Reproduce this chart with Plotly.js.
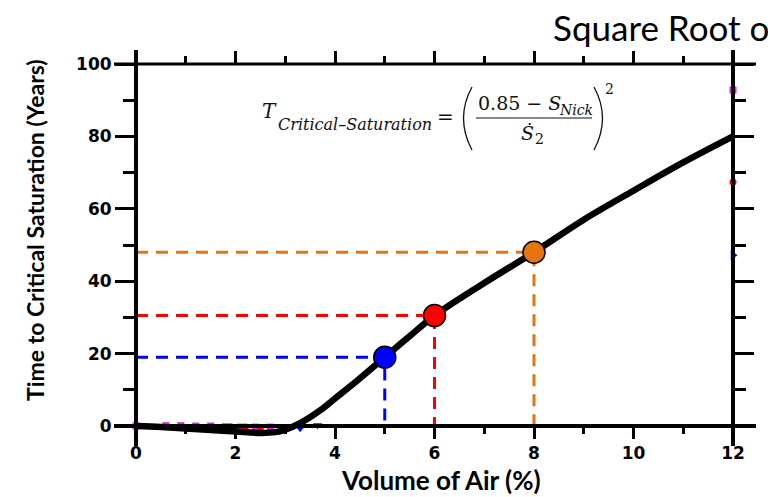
<!DOCTYPE html>
<html>
<head>
<meta charset="utf-8">
<script src="https://cdn.plot.ly/plotly-3.0.1.min.js"></script>
<style>html,body{margin:0;padding:0;background:#fff;}#chart{width:768px;height:497px;}</style>
</head>
<body>
<div id="chart"></div>
<script>
// ---- data ----
const curveX = [0, 0.5, 1, 1.5, 2, 2.5, 2.8, 3, 3.3, 3.7, 4, 4.4, 5, 5.5, 6, 7, 8, 9, 10, 11, 12];
const curveY = [0, -0.3, -0.7, -1.1, -1.5, -1.9, -1.7, -1.0, 0.8, 4.3, 7.6, 12.0, 19, 24.8, 30.5, 39.5, 48, 57, 65, 72.8, 80];

const pointX = [5, 6, 8];
const pointY = [19, 30.5, 48];
const pointColors = ['#0000ff', '#ff0000', '#e47510'];

const bgMagentaX = [0, 0.6, 0.9, 1.2, 1.5, 1.8, 2.1, 2.4, 2.7, 12];
const bgMagentaY = [0, 0.1, 0.1, 0, 0, -0.2, -0.3, -0.3, -0.3, 92.8];
const bgRedX = [1.9, 2.2, 2.5, 12];
const bgRedY = [-0.2, -0.3, -0.4, 67.4];
const bgBlueX = [3.3, 3.65];
const bgBlueY = [-0.6, 0.2];
const bgBlueEdgeX = [12];
const bgBlueEdgeY = [47.2];

const xTicks = [0, 2, 4, 6, 8, 10, 12];
const yTicks = [0, 20, 40, 60, 80, 100];

// ---- layout helpers (pixel -> paper) ----
const L = 136, R = 733, T = 64, B = 426, EXTRA = 15;
const PB = B + EXTRA;              // paper bottom in pixels
const W = R - L, PH = PB - T;
const px = x => (x - L) / W;
const py = y => (PB - y) / PH;
const yMinExt = -100 * EXTRA / (B - T);

const on2 = t => Object.assign(t, {xaxis: 'x2', yaxis: 'y2'});
const traces = [];
// placeholder so the main axes subplot exists
traces.push({x: [], y: [], type: 'scatter', mode: 'markers', hoverinfo: 'skip'});
// background stray markers
traces.push(on2({x: bgMagentaX, y: bgMagentaY, mode: 'markers', type: 'scatter', cliponaxis: false,
  marker: {symbol: 'square', size: 7, color: '#e020e0'}, hoverinfo: 'skip'}));
traces.push(on2({x: bgRedX, y: bgRedY, mode: 'markers', type: 'scatter', cliponaxis: false,
  marker: {symbol: 'circle', size: 7, color: '#ff0000'}, hoverinfo: 'skip'}));
traces.push(on2({x: bgBlueX, y: bgBlueY, mode: 'markers', type: 'scatter', cliponaxis: false,
  marker: {symbol: 'triangle-down', size: 8, color: '#0000ff'}, hoverinfo: 'skip'}));
traces.push(on2({x: bgBlueEdgeX, y: bgBlueEdgeY, mode: 'markers', type: 'scatter', cliponaxis: false,
  marker: {symbol: 'triangle-right', size: 9, color: '#0000ff'}, hoverinfo: 'skip'}));

// dashed guide lines
pointX.forEach((xv, i) => {
  traces.push(on2({x: [0, xv, xv], y: [pointY[i], pointY[i], 0], mode: 'lines', type: 'scatter',
    cliponaxis: false, line: {color: pointColors[i], width: 3, dash: '12px,8px'}, hoverinfo: 'skip'}));
});

// main curve
traces.push(on2({x: curveX, y: curveY, mode: 'lines', type: 'scatter', cliponaxis: false,
  line: {color: '#000', width: 6.5, shape: 'spline', smoothing: 1}, hoverinfo: 'skip'}));

// highlighted points
traces.push(on2({x: pointX, y: pointY, mode: 'markers', type: 'scatter', cliponaxis: false,
  marker: {size: 22, color: pointColors, line: {color: '#000', width: 1.5}}, hoverinfo: 'skip'}));

const tickFont = {family: 'DejaVu Sans', size: 17, color: '#000', weight: 'bold'};

const layout = {
  width: 768, height: 497,
  margin: {l: L, r: 768 - R, t: T, b: 497 - PB},
  paper_bgcolor: '#fff', plot_bgcolor: 'rgba(0,0,0,0)',
  showlegend: false,
  xaxis: {
    domain: [0, 1], anchor: 'y',
    range: [0, 12], tickvals: xTicks, ticktext: xTicks.map(String),
    ticks: 'outside', ticklen: 12, tickwidth: 3, tickcolor: '#000', mirror: 'ticks',
    minor: {ticks: 'outside', dtick: 1, ticklen: 7, tickwidth: 3, tickcolor: '#000'},
    showgrid: false, zeroline: false, showline: false,
    tickfont: tickFont, fixedrange: true
  },
  yaxis: {
    domain: [EXTRA / PH, 1], anchor: 'x',
    range: [0, 100], tickvals: yTicks, ticktext: yTicks.map(String),
    ticks: 'outside', ticklen: 20, tickwidth: 3, tickcolor: '#000', mirror: 'ticks',
    minor: {ticks: 'outside', dtick: 10, ticklen: 12, tickwidth: 3, tickcolor: '#000'},
    showgrid: false, zeroline: false, showline: false,
    tickfont: tickFont, fixedrange: true
  },
  xaxis2: {domain: [0, 1], anchor: 'y2', range: [0, 12], visible: false, fixedrange: true},
  yaxis2: {domain: [0, 1], anchor: 'x2', range: [yMinExt, 100], visible: false, fixedrange: true},
  shapes: [
    // extended frame lines
    {type: 'line', xref: 'paper', yref: 'paper', x0: px(114), x1: px(756), y0: py(B), y1: py(B), line: {color: '#000', width: 4}, layer: 'above'},
    {type: 'line', xref: 'paper', yref: 'paper', x0: px(114), x1: px(756), y0: 1, y1: 1, line: {color: '#000', width: 3}, layer: 'above'},
    {type: 'line', xref: 'paper', yref: 'paper', x0: 0, x1: 0, y0: py(50), y1: py(446), line: {color: '#000', width: 4}, layer: 'above'},
    {type: 'line', xref: 'paper', yref: 'paper', x0: 1, x1: 1, y0: py(50), y1: py(446), line: {color: '#000', width: 4}, layer: 'above'},
    // formula: fraction bar
    {type: 'line', xref: 'paper', yref: 'paper', x0: px(476), x1: px(592), y0: py(118), y1: py(118), line: {color: '#111', width: 1.2}},
    // formula: parentheses
    {type: 'path', xref: 'paper', yref: 'paper',
      path: `M ${px(472)},${py(87)} Q ${px(455)},${py(118)} ${px(472)},${py(150)}`, line: {color: '#111', width: 1.3}},
    {type: 'path', xref: 'paper', yref: 'paper',
      path: `M ${px(594)},${py(87)} Q ${px(611)},${py(118)} ${px(594)},${py(150)}`, line: {color: '#111', width: 1.3}}
  ],
  annotations: [
    {text: 'Square Root of Time', xref: 'paper', yref: 'paper', x: px(551), y: py(27), xanchor: 'left', yanchor: 'middle',
      showarrow: false, font: {family: 'Lato', size: 35, color: '#000'}},
    {text: 'Time to Critical Saturation (Years)', xref: 'paper', yref: 'paper', x: px(35), y: py(230), textangle: -90,
      xanchor: 'center', yanchor: 'middle', showarrow: false, font: {family: 'Lato', size: 23, color: '#000', weight: 'bold'}},
    {text: 'Volume of Air (%)', xref: 'paper', yref: 'paper', x: px(441), y: py(480),
      xanchor: 'center', yanchor: 'middle', showarrow: false, font: {family: 'Lato', size: 26, color: '#000', weight: 'bold'}},
    // formula pieces
    {text: '<i>T</i>', xref: 'paper', yref: 'paper', x: px(260), y: py(111), xanchor: 'left', yanchor: 'middle',
      showarrow: false, font: {family: 'DejaVu Serif', size: 20, color: '#111'}},
    {text: '<i>Critical–Saturation</i>', xref: 'paper', yref: 'paper', x: px(276), y: py(124), xanchor: 'left', yanchor: 'middle',
      showarrow: false, font: {family: 'DejaVu Serif', size: 16, color: '#111'}},
    {text: '=', xref: 'paper', yref: 'paper', x: px(445), y: py(117), xanchor: 'center', yanchor: 'middle',
      showarrow: false, font: {family: 'DejaVu Serif', size: 20, color: '#111'}},
    {text: '0.85 − <i>S</i>', xref: 'paper', yref: 'paper', x: px(476), y: py(103), xanchor: 'left', yanchor: 'middle',
      showarrow: false, font: {family: 'DejaVu Serif', size: 19, color: '#111'}},
    {text: '<i>Nick</i>', xref: 'paper', yref: 'paper', x: px(557), y: py(110), xanchor: 'left', yanchor: 'middle',
      showarrow: false, font: {family: 'DejaVu Serif', size: 14, color: '#111'}},
    {text: '<i>Ṡ</i>', xref: 'paper', yref: 'paper', x: px(527), y: py(133), xanchor: 'center', yanchor: 'middle',
      showarrow: false, font: {family: 'DejaVu Serif', size: 19, color: '#111'}},
    {text: '2', xref: 'paper', yref: 'paper', x: px(539), y: py(139), xanchor: 'center', yanchor: 'middle',
      showarrow: false, font: {family: 'DejaVu Serif', size: 14, color: '#111'}},
    {text: '2', xref: 'paper', yref: 'paper', x: px(609), y: py(89), xanchor: 'center', yanchor: 'middle',
      showarrow: false, font: {family: 'DejaVu Serif', size: 14, color: '#111'}}
  ]
};

Plotly.newPlot('chart', traces, layout, {staticPlot: true, displayModeBar: false});
</script>
</body>
</html>
